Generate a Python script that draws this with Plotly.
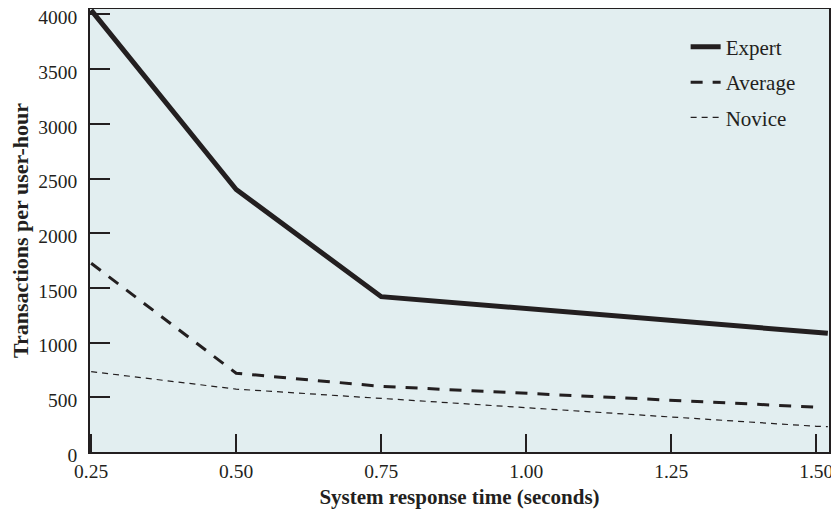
import plotly.graph_objects as go

# data
expert_x = [0.25, 0.50, 0.75, 1.52]
expert_y = [4040, 2400, 1420, 1085]

average_x = [0.25, 0.50, 0.75, 1.50]
average_y = [1725, 720, 600, 410]

novice_x = [0.25, 0.50, 1.50, 1.52]
novice_y = [735, 575, 235, 232]

x_ticks = [0.25, 0.50, 0.75, 1.00, 1.25, 1.50]
x_ticktext = ["0.25", "0.50", "0.75", "1.00", "1.25", "1.50"]
y_ticks = [0, 500, 1000, 1500, 2000, 2500, 3000, 3500, 4000]

ink = "#231f20"
serif = "Liberation Serif"

fig = go.Figure()

fig.add_scatter(x=expert_x, y=expert_y, name="Expert", mode="lines",
                line=dict(color=ink, width=5), legendgroup="a")
fig.add_scatter(x=average_x, y=average_y, name="Average", mode="lines",
                line=dict(color=ink, width=3, dash="12px,10px"), legendgroup="b")
fig.add_scatter(x=novice_x, y=novice_y, name="Novice", mode="lines",
                line=dict(color=ink, width=1.2, dash="6px,5px"), legendgroup="c")

axis_common = dict(
    showgrid=False, zeroline=False, automargin=False,
    showline=True, linecolor=ink, linewidth=1.5, mirror=True,
    ticks="inside", tickcolor=ink, tickwidth=1.5,
    ticklabeloverflow="allow",
    tickfont=dict(family=serif, size=19.5, color=ink),
)

# the page body adds an 8px margin, so the figure is 8px smaller each way
fig.update_layout(
    width=831, height=505,
    margin=dict(l=82, r=10, t=1, b=61),
    paper_bgcolor="white",
    plot_bgcolor="#e2eef0",
    font=dict(family=serif, color=ink),
    xaxis=dict(
        axis_common,
        range=[0.248, 1.522],
        tickvals=x_ticks, ticktext=x_ticktext,
        ticklen=18,
        ticklabelstandoff=1,
        title=dict(text="<b>System response time (seconds)</b>",
                   font=dict(family=serif, size=21, color=ink), standoff=8),
    ),
    yaxis=dict(
        axis_common,
        range=[0, 4050],
        tickvals=y_ticks,
        ticklen=20,
        ticklabelstandoff=7,
        ticklabelshift=3,
        title=dict(text="<b>Transactions per user-hour</b>",
                   font=dict(family=serif, size=22, color=ink)),
    ),
    legend=dict(
        x=0.806, y=0.96, xanchor="left", yanchor="top",
        bgcolor="rgba(0,0,0,0)",
        font=dict(family=serif, size=21, color=ink),
        tracegroupgap=5,
    ),
)

fig.write_html("out.html")
